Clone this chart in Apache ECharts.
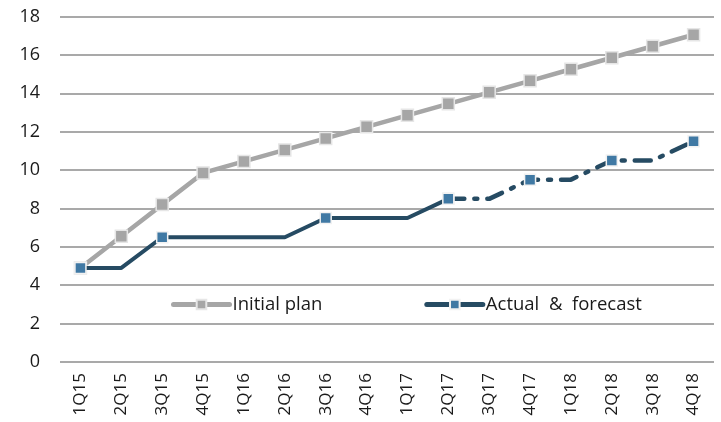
<!DOCTYPE html>
<html>
<head>
<meta charset="utf-8">
<script src="https://cdn.jsdelivr.net/npm/echarts@6/dist/echarts.min.js"></script>
<style>
  html, body { margin: 0; padding: 0; background: #fff; }
  #chart { width: 721px; height: 422px; }
</style>
</head>
<body>
<div id="chart"></div>
<script>
// categories and values
const quarters = ['1Q15', '2Q15', '3Q15', '4Q15', '1Q16', '2Q16', '3Q16', '4Q16',
                  '1Q17', '2Q17', '3Q17', '4Q17', '1Q18', '2Q18', '3Q18', '4Q18'];
const initialPlan = [4.9, 6.55, 8.2, 9.85, 10.45, 11.05, 11.65, 12.25,
                     12.85, 13.45, 14.05, 14.65, 15.25, 15.85, 16.45, 17.05];
const actualForecast = [4.9, 4.9, 6.5, 6.5, 6.5, 6.5, 7.5, 7.5,
                        7.5, 8.5, 8.5, 9.5, 9.5, 10.5, 10.5, 11.5];
// last actual quarter; after it the line is forecast (dashed)
const lastActual = 9;
// quarters that carry a marker on the dark line
const markedQuarters = [0, 2, 6, 9, 11, 13, 15];

const fontFamily = '"Open Sans", Lato, sans-serif';
const darkLine = '#264b63';
const darkMarker = '#4079a4';
const grayLine = '#a6a6a6';

// build the two pieces of the dark line
const actualPart = actualForecast.map((v, i) => (i <= lastActual ? v : '-'));
const forecastPart = actualForecast.map((v, i) => (i >= lastActual ? v : '-'));

const markSize = (value, params) => (markedQuarters.includes(params.dataIndex) ? 11 : 0);

const chart = echarts.init(document.getElementById('chart'));

const option = {
    animation: false,
    grid: { left: 60, right: 7, top: 16.5, bottom: 60 },
    legend: {
        left: 166,
        top: 290,
        itemWidth: 56,
        itemHeight: 12,
        itemGap: 102,
        lineStyle: { width: 5, cap: 'round' },
        textStyle: { fontFamily, fontSize: 18.5, color: '#1a1a1a', padding: [0, 0, 0, -2] },
        data: ['Initial plan', 'Actual  &  forecast'],
    },
    xAxis: {
        type: 'category',
        data: quarters,
        boundaryGap: true,
        axisLine: { show: false },
        axisTick: { show: false },
        axisLabel: {
            rotate: 90,
            margin: 11,
            fontFamily,
            fontSize: 17,
            color: '#1a1a1a',
        },
    },
    yAxis: {
        type: 'value',
        min: 0,
        max: 18,
        interval: 2,
        axisLine: { show: false },
        axisTick: { show: false },
        axisLabel: { margin: 20, fontFamily, fontSize: 18, color: '#1a1a1a' },
        splitLine: { lineStyle: { color: '#8c8c8c', width: 1.5 } },
    },
    series: [
        {
            name: 'Initial plan',
            type: 'line',
            data: initialPlan,
            symbol: 'rect',
            symbolSize: 12,
            lineStyle: { color: grayLine, width: 4.5 },
            itemStyle: { color: grayLine, borderColor: '#e6e6e6', borderWidth: 1.5 },
            z: 2,
        },
        {
            name: 'Actual  &  forecast',
            type: 'line',
            data: actualPart,
            symbol: 'rect',
            symbolSize: markSize,
            lineStyle: { color: darkLine, width: 4 },
            itemStyle: { color: darkMarker, borderColor: '#f2f2f2', borderWidth: 1.5 },
            z: 4,
        },
        {
            name: 'Actual  &  forecast',
            type: 'line',
            data: forecastPart,
            symbol: 'rect',
            symbolSize: markSize,
            lineStyle: { color: darkLine, width: 4.5, type: [16, 10, 3, 10], cap: 'round' },
            itemStyle: { color: darkMarker, borderColor: '#f2f2f2', borderWidth: 1.5 },
            z: 3,
        },
    ],
};

chart.setOption(option);
</script>
</body>
</html>
